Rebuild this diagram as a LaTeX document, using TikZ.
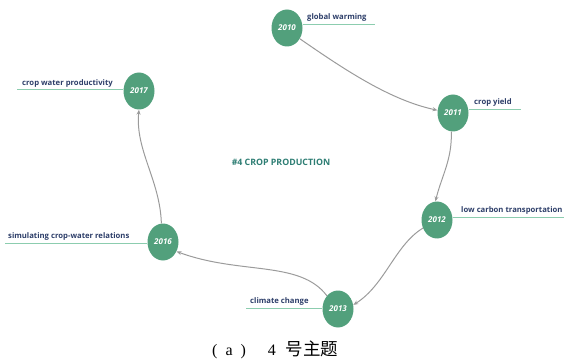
\documentclass[tikz,border=0pt]{standalone}
\usepackage{fontspec}
\setmainfont{Liberation Serif}
\setsansfont{Open Sans}
\newfontfamily\cjkfont{Noto Sans CJK SC}
\usetikzlibrary{shapes.geometric,arrows.meta}
\definecolor{nodegreen}{RGB}{82,160,124}
\definecolor{labelblue}{RGB}{45,62,105}
\definecolor{ulgreen}{RGB}{140,205,175}
\definecolor{titleteal}{RGB}{45,125,115}
\definecolor{arrowgray}{RGB}{155,155,155}
\begin{document}
\begin{tikzpicture}[x=1pt,y=-1pt,
  yearnode/.style={ellipse,fill=nodegreen,draw=none,minimum width=31pt,minimum height=37pt,inner sep=0pt,
    text=white,font=\sffamily\bfseries\itshape\fontsize{8}{9}\selectfont},
  lbl/.style={text=labelblue,font=\sffamily\bfseries\fontsize{7.7}{8}\selectfont,inner sep=0pt},
  uline/.style={draw=ulgreen,line width=1pt},
  link/.style={draw=arrowgray,line width=1pt,-{Stealth[length=5pt,width=4pt]}}]
\useasboundingbox (0,0) rectangle (564,363);
% nodes
\node[yearnode] (n2010) at (287,28) {2010};
\node[yearnode] (n2011) at (453,113) {2011};
\node[yearnode] (n2012) at (437,220) {2012};
\node[yearnode] (n2013) at (338,309) {2013};
\node[yearnode] (n2016) at (163,242) {2016};
\node[yearnode] (n2017) at (139,91) {2017};
% labels and underlines
\node[lbl,anchor=base west] (l2010) at (307,20) {global warming};
\coordinate (u2010) at (375,25);
\draw[uline] (n2010.east |- u2010) -- (u2010);
\node[lbl,anchor=base west] (l2011) at (474,105) {crop yield};
\coordinate (u2011) at (521,110);
\draw[uline] (n2011.east |- u2011) -- (u2011);
\node[lbl,anchor=base west] (l2012) at (461,213) {low carbon transportation};
\coordinate (u2012) at (564,218);
\draw[uline] (n2012.east |- u2012) -- (u2012);
\node[lbl,anchor=base west] (l2013) at (250,303) {climate change};
\coordinate (u2013) at (246,308);
\draw[uline] (u2013) -- (n2013.west |- u2013);
\node[lbl,anchor=base west] (l2016) at (8,238) {simulating crop-water relations};
\coordinate (u2016) at (5,243);
\draw[uline] (u2016) -- (n2016.west |- u2016);
\node[lbl,anchor=base west] (l2017) at (22,86) {crop water productivity};
\coordinate (u2017) at (17,90);
\draw[uline] (u2017) -- (n2017.west |- u2017);
% title
\node[text=titleteal,font=\sffamily\bfseries\fontsize{8.8}{10}\selectfont] (title) at (281,162) {\#4 CROP PRODUCTION};
% caption
\node[font=\fontsize{16}{18}\selectfont,inner sep=0pt,anchor=base west] (cap) at (212,355)
  {(\hspace{8pt}a\hspace{8pt})\hspace{22pt}4\hspace{10pt}{\cjkfont\fontsize{17.5}{19}\selectfont 号主题}};
% connectors
\draw[link] (n2010.-40) .. controls (345,70) and (390,100) .. (n2011.170);
\draw[link] (n2011.-95) .. controls (452,160) and (442,175) .. (n2012.95);
\draw[link] (n2012.-150) .. controls (395,245) and (385,285) .. (n2013.15);
\draw[link] (n2013.130) .. controls (300,260) and (240,275) .. (n2016.-35);
\draw[link] (n2016.95) .. controls (160,180) and (135,150) .. (n2017.-90);
\end{tikzpicture}
\end{document}
